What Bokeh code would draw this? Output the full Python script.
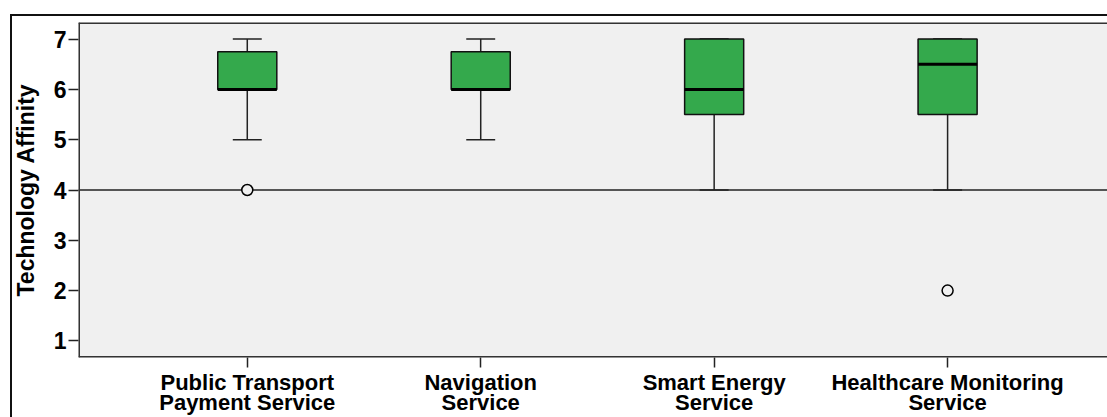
from bokeh.plotting import figure
from bokeh.models import Range1d, FixedTicker, Span
from bokeh.embed import file_html
from bokeh.resources import INLINE

# ---- data ----
categories = ["Public Transport\nPayment Service", "Navigation\nService",
              "Smart Energy\nService", "Healthcare Monitoring\nService"]
lower = [5, 5, 4, 4]
q1 = [6, 6, 5.5, 5.5]
median = [6, 6, 6, 6.5]
q3 = [6.75, 6.75, 7, 7]
upper = [7, 7, 7, 7]
outlier_cat = [0, 3]
outlier_val = [4, 2]
reference_value = 4
y_ticks = [1, 2, 3, 4, 5, 6, 7]

xs = list(range(1, len(categories) + 1))
box_w = 0.253
cap_w = 0.124

FONT = "Liberation Sans"
GREEN = "#34a94c"
Y0, Y1 = 0.67, 7.33
X0, X1 = 0.277, 4.685

p = figure(width=1107, height=417, output_backend="svg", toolbar_location=None,
           x_range=Range1d(X0, X1), y_range=Range1d(Y0, Y1),
           min_border_left=78, min_border_top=22, min_border_bottom=57, min_border_right=0,
           styles={"box-shadow": "inset 10px 14px 0 0 white, inset 12px 16px 0 0 #111111"})

p.background_fill_color = "#f0f0f0"
p.border_fill_color = None
p.outline_line_color = None
p.xgrid.visible = False
p.ygrid.visible = False

# frame edges (left, top, bottom; the right edge is outside the picture)
for loc, dim in [(X0, "height"), (Y1, "width"), (Y0, "width")]:
    p.add_layout(Span(location=loc, dimension=dim, line_color="#333333", line_width=3))

ref = Span(location=reference_value, dimension="width", line_color="#222222",
           line_width=1.5, level="underlay")
p.add_layout(ref)

# whiskers
p.segment(x0=xs, x1=xs, y0=q3, y1=upper, line_color="#222222", line_width=1.5)
p.segment(x0=xs, x1=xs, y0=q1, y1=lower, line_color="#222222", line_width=1.5)
p.segment(x0=[x - cap_w / 2 for x in xs], x1=[x + cap_w / 2 for x in xs], y0=upper, y1=upper,
          line_color="#222222", line_width=1.5)
p.segment(x0=[x - cap_w / 2 for x in xs], x1=[x + cap_w / 2 for x in xs], y0=lower, y1=lower,
          line_color="#222222", line_width=1.5)
# boxes
p.vbar(x=xs, width=box_w, bottom=q1, top=q3, fill_color=GREEN, line_color="#111111", line_width=1.5)
# medians
p.segment(x0=[x - box_w / 2 for x in xs], x1=[x + box_w / 2 for x in xs], y0=median, y1=median,
          line_color="black", line_width=3)
# outliers
p.scatter(x=[xs[i] for i in outlier_cat], y=outlier_val, size=11, marker="circle",
          fill_color="#f0f0f0", line_color="black", line_width=1.5)

# axes
p.yaxis.ticker = FixedTicker(ticks=y_ticks)
p.yaxis.axis_label = "Technology Affinity"
p.yaxis.axis_label_text_font = FONT
p.yaxis.axis_label_text_font_style = "bold"
p.yaxis.axis_label_text_font_size = "23px"
p.yaxis.axis_label_text_color = "black"
p.yaxis.axis_label_standoff = 12
p.yaxis.major_label_text_font = FONT
p.yaxis.major_label_text_font_style = "bold"
p.yaxis.major_label_text_font_size = "23px"
p.yaxis.major_label_text_color = "black"
p.yaxis.major_label_standoff = 2
p.yaxis.axis_line_color = None
p.yaxis.minor_tick_line_color = None
p.yaxis.major_tick_out = 10
p.yaxis.major_tick_in = 0
p.yaxis.major_tick_line_color = "#222222"
p.yaxis.major_tick_line_width = 1.5

p.xaxis.ticker = FixedTicker(ticks=xs)
p.xaxis.major_label_overrides = {x: c for x, c in zip(xs, categories)}
p.xaxis.major_label_text_font = FONT
p.xaxis.major_label_text_font_style = "bold"
p.xaxis.major_label_text_font_size = "22px"
p.xaxis.major_label_text_color = "black"
p.xaxis.major_label_text_line_height = 0.8
p.xaxis.major_label_standoff = 2
p.xaxis.axis_line_color = None
p.xaxis.minor_tick_line_color = None
p.xaxis.major_tick_out = 10
p.xaxis.major_tick_in = 0
p.xaxis.major_tick_line_color = "#222222"
p.xaxis.major_tick_line_width = 1.5

open("out.html", "w").write(file_html(p, INLINE))
